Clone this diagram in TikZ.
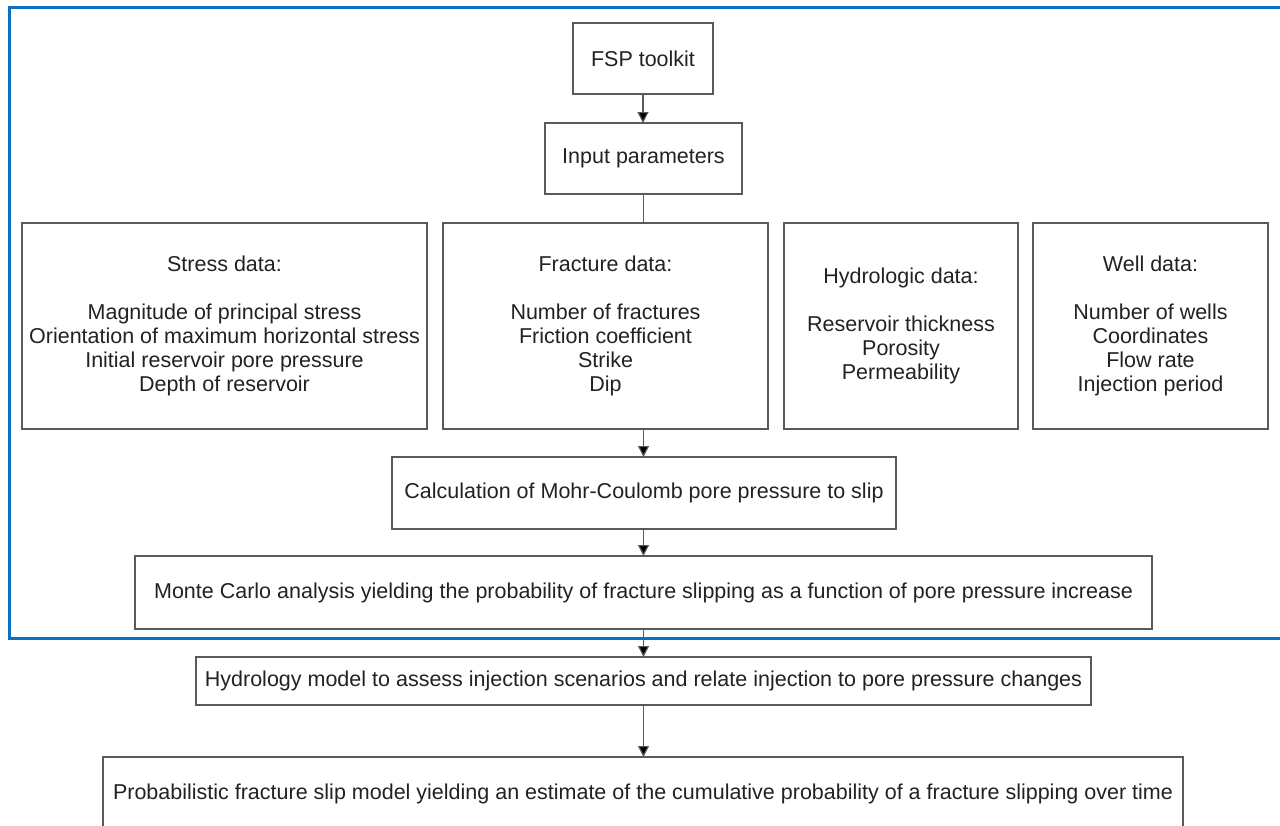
\documentclass[tikz,border=0pt]{standalone}
\usepackage{fontspec}
\setmainfont{Liberation Sans}
\usetikzlibrary{arrows.meta}
\definecolor{frameblue}{HTML}{0A70C4}
\definecolor{boxgray}{HTML}{5A5A5A}
\definecolor{txt}{HTML}{222222}
\tikzset{
  box/.style={draw=boxgray, line width=1.3pt, inner sep=0pt, outer sep=0pt, align=center,
    text=txt, font=\fontsize{21.5}{24}\selectfont},
  arr/.style={draw=boxgray, line width=1.2pt, -{Triangle[length=11pt,width=11pt,fill=black]}},
  conn/.style={draw=boxgray, line width=1.2pt},
}
\begin{document}
\begin{tikzpicture}[x=1pt,y=-1pt]
\useasboundingbox (0,0) rectangle (1280,825);
\clip (0,0) rectangle (1280,825);
\fill[white] (0,0) rectangle (1280,825);
\draw[frameblue, line width=3pt] (9,7) rectangle (1295,638);

\node[box, minimum width=140pt, minimum height=71pt] (fsp) at (643,58.5) {FSP toolkit};
\node[box, minimum width=197pt, minimum height=71pt] (inp) at (643.5,158.5) {Input parameters};
\node[box, minimum width=405pt, minimum height=206pt] (stress) at (224.5,326)
  {Stress data:\\[24pt]Magnitude of principal stress\\Orientation of maximum horizontal stress\\Initial reservoir pore pressure\\Depth of reservoir};
\node[box, minimum width=325pt, minimum height=206pt] (frac) at (605.5,326)
  {Fracture data:\\[24pt]Number of fractures\\Friction coefficient\\Strike\\Dip};
\node[box, minimum width=234pt, minimum height=206pt] (hydro) at (901,326)
  {Hydrologic data:\\[24pt]Reservoir thickness\\Porosity\\Permeability};
\node[box, minimum width=235pt, minimum height=206pt] (well) at (1150.5,326)
  {Well data:\\[24pt]Number of wells\\Coordinates\\Flow rate\\Injection period};
\node[box, minimum width=504pt, minimum height=72pt] (calc) at (644,493)
  {Calculation of Mohr-Coulomb pore pressure to slip};
\node[box, minimum width=1017pt, minimum height=73pt] (mc) at (643.5,592.5)
  {Monte Carlo analysis yielding the probability of fracture slipping as a function of pore pressure increase};
\node[box, minimum width=895pt, minimum height=48pt] (hm) at (643.5,681)
  {Hydrology model to assess injection scenarios and relate injection to pore pressure changes};
\node[box, minimum width=1080pt, minimum height=73pt] (pf) at (643,793.5)
  {Probabilistic fracture slip model yielding an estimate of the cumulative probability of a fracture slipping over time};

\draw[arr] (fsp.south) -- (fsp.south |- inp.north);
\draw[conn] (inp.south) -- (inp.south |- frac.north);
\draw[arr] (frac.south -| inp.south) -- (inp.south |- calc.north);
\draw[arr] (calc.south -| inp.south) -- (inp.south |- mc.north);
\draw[arr] (mc.south -| inp.south) -- (inp.south |- hm.north);
\draw[arr] (hm.south -| inp.south) -- (inp.south |- pf.north);
\end{tikzpicture}
\end{document}
